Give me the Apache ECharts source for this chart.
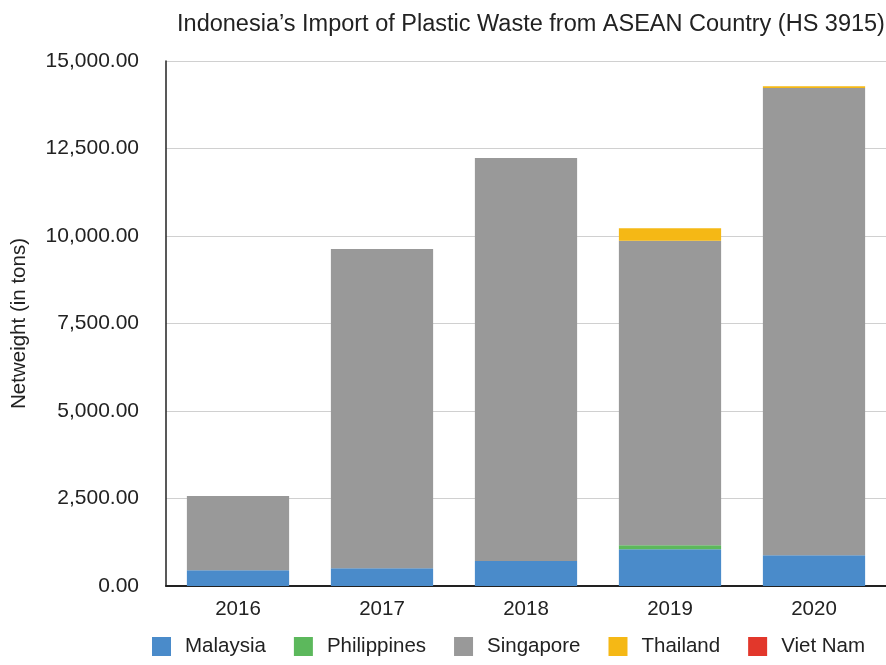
<!DOCTYPE html>
<html>
<head>
<meta charset="utf-8">
<script src="https://cdn.jsdelivr.net/npm/echarts@6/dist/echarts.min.js"></script>
<style>
  html, body { margin: 0; padding: 0; background: #fff; }
  #chart { width: 886px; height: 665px; }
</style>
</head>
<body>
<div id="chart"></div>
<script>
// Import of plastic waste (HS 3915) into Indonesia by ASEAN origin, tons
const years = ['2016', '2017', '2018', '2019', '2020'];
const malaysia    = [450, 506, 714, 1049, 877];
const philippines = [0, 0, 0, 114, 0];
const singapore   = [2120, 9124, 11516, 8703, 13353];
const thailand    = [0, 0, 0, 354, 50];
const vietNam     = [0, 0, 0, 0, 0];
const yTicks = { min: 0, max: 15000, step: 2500 };

const font = 'Liberation Sans, Arial, Helvetica, sans-serif';
const fmt = v => v.toLocaleString('en-US', { minimumFractionDigits: 2, maximumFractionDigits: 2 });

const seriesDefs = [
  { name: 'Malaysia', data: malaysia, color: '#4a8bca' },
  { name: 'Philippines', data: philippines, color: '#5cb85c' },
  { name: 'Singapore', data: singapore, color: '#999999' },
  { name: 'Thailand', data: thailand, color: '#f5b815' },
  { name: 'Viet Nam', data: vietNam, color: '#e2372b' }
];

const chart = echarts.init(document.getElementById('chart'));
chart.setOption({
  animation: false,
  textStyle: { fontFamily: font },
  title: {
    text: 'Indonesia\u2019s Import of Plastic Waste from ASEAN Country (HS 3915)',
    left: 526, textAlign: 'center', top: 8,
    textStyle: { fontSize: 23.5, fontWeight: 'normal', color: '#222', fontFamily: font }
  },
  legend: {
    bottom: 3, left: 147,
    itemWidth: 19, itemHeight: 19, itemGap: 28,
    icon: 'rect',
    textStyle: { fontSize: 20.5, color: '#222', fontFamily: font, padding: [0, 0, 0, 9] }
  },
  grid: { left: 166, right: 0, top: 61, bottom: 79, containLabel: false, outerBoundsMode: 'none' },
  xAxis: {
    type: 'category',
    data: years,
    axisLine: { lineStyle: { color: '#222', width: 2 } },
    axisTick: { show: false },
    axisLabel: { fontSize: 20.5, color: '#222', margin: 13 }
  },
  yAxis: {
    type: 'value',
    min: yTicks.min, max: yTicks.max, interval: yTicks.step,
    name: 'Netweight (in tons)',
    nameLocation: 'middle', nameGap: 136, nameRotate: 90,
    nameTextStyle: { fontSize: 20.5, color: '#222' },
    axisLine: { show: true, lineStyle: { color: '#222', width: 1.5 } },
    axisTick: { show: false },
    axisLabel: { fontSize: 21, color: '#222', margin: 27, formatter: fmt },
    splitLine: { lineStyle: { color: '#d0d0d0', width: 1 } }
  },
  series: seriesDefs.map(s => ({
    name: s.name,
    type: 'bar',
    stack: 'total',
    data: s.data,
    barWidth: '71%',
    itemStyle: { color: s.color }
  }))
});
</script>
</body>
</html>
